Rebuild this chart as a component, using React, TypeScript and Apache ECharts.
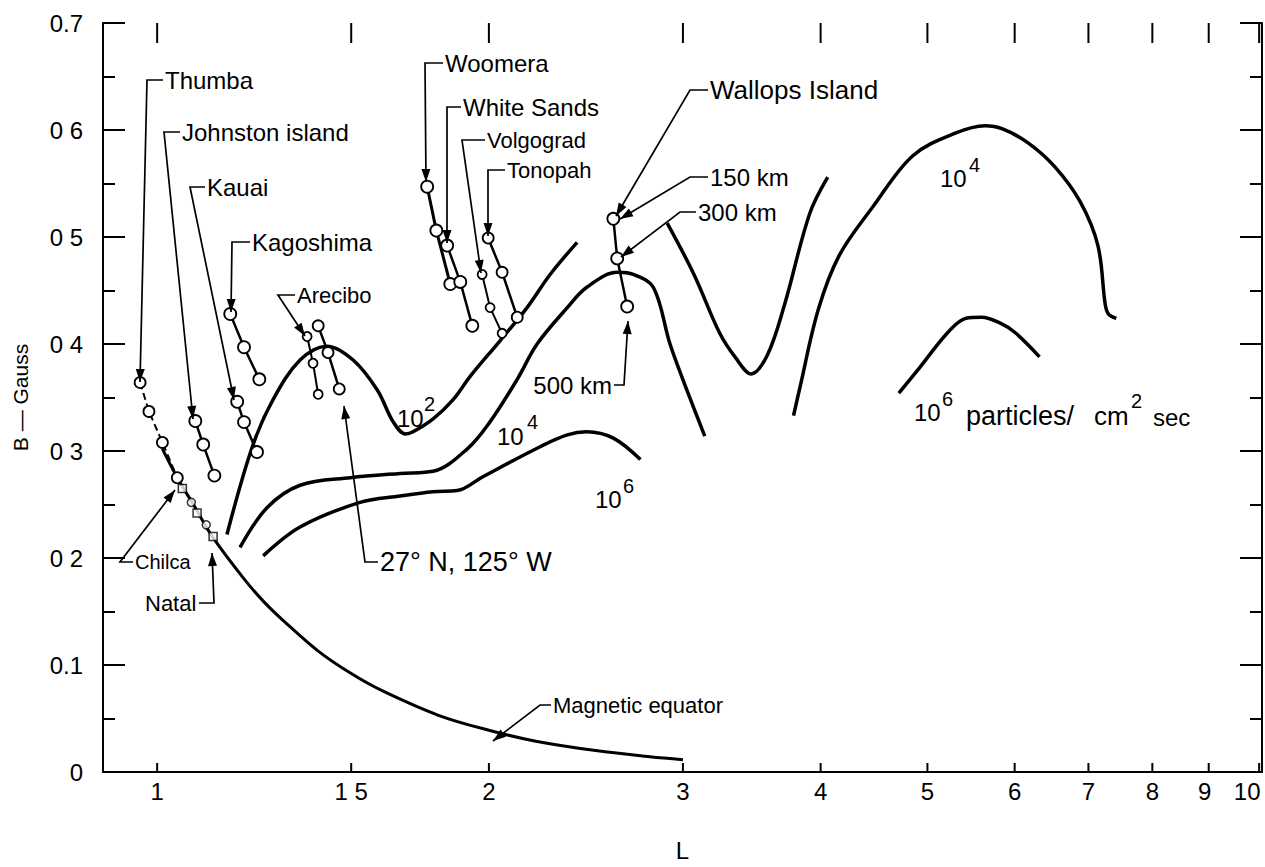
import React, { useEffect, useRef } from "react";
import * as echarts from "echarts";

// ---------- data (L, B in gauss) ----------
const xTickValues = [1, 1.5, 2, 3, 4, 5, 6, 7, 8, 9, 10];
const xTickLabels = ["1", "1 5", "2", "3", "4", "5", "6", "7", "8", "9", "10"];
const yTickLabels = ["0", "0.1", "0 2", "0 3", "0 4", "0 5", "0 6", "0.7"];

const magneticEquator = [
  [1.011, 0.302], [1.043, 0.275], [1.08, 0.249], [1.124, 0.219], [1.2, 0.18],
  [1.25, 0.159], [1.3, 0.142], [1.4, 0.113], [1.5, 0.092], [1.6, 0.076],
  [1.8, 0.053], [2.0, 0.039], [2.2, 0.029], [2.5, 0.02], [2.8, 0.0142], [3.0, 0.0115],
];
const flux1e2Low = [
  [1.157, 0.222], [1.22, 0.304], [1.274, 0.348], [1.348, 0.385], [1.426, 0.398],
  [1.506, 0.385], [1.584, 0.357], [1.638, 0.327], [1.68, 0.316], [1.707, 0.318],
  [1.78, 0.33], [1.856, 0.348], [1.924, 0.37], [2.047, 0.403], [2.166, 0.434],
  [2.273, 0.465], [2.405, 0.495],
];
const flux1e4Low = [
  [1.189, 0.21], [1.258, 0.247], [1.348, 0.268], [1.497, 0.275], [1.662, 0.279],
  [1.78, 0.281], [1.912, 0.302], [2.004, 0.327], [2.122, 0.367], [2.212, 0.4],
  [2.356, 0.434], [2.454, 0.453], [2.616, 0.467], [2.704, 0.465], [2.82, 0.453],
  [2.92, 0.4], [3.03, 0.355], [3.14, 0.314],
];
const flux1e6Low = [
  [1.248, 0.202], [1.348, 0.229], [1.528, 0.252], [1.662, 0.258], [1.78, 0.262],
  [1.872, 0.263], [1.975, 0.276], [2.226, 0.304], [2.356, 0.315], [2.454, 0.318],
  [2.594, 0.312], [2.745, 0.292],
];
const flux1e2High = [
  [2.903, 0.513], [3.07, 0.465], [3.24, 0.41], [3.35, 0.387], [3.46, 0.372],
  [3.58, 0.39], [3.71, 0.437], [3.91, 0.522], [4.06, 0.556],
];
const flux1e4High = [
  [3.78, 0.333], [3.83, 0.359], [3.98, 0.432], [4.16, 0.483], [4.46, 0.528],
  [4.85, 0.576], [5.3, 0.597], [5.64, 0.604], [5.85, 0.601], [6.17, 0.588],
  [6.52, 0.566], [6.88, 0.533], [7.14, 0.492], [7.25, 0.437], [7.3, 0.428], [7.42, 0.424],
];
const flux1e6High = [
  [4.71, 0.354], [4.92, 0.378], [5.22, 0.411], [5.42, 0.424], [5.6, 0.425],
  [5.81, 0.42], [6.0, 0.411], [6.32, 0.388],
];

const thumba = [[0.965, 0.364], [0.983, 0.337], [1.011, 0.308], [1.043, 0.275]];
const johnston = [[1.083, 0.328], [1.101, 0.306], [1.127, 0.277]];
const kauai = [[1.182, 0.346], [1.199, 0.327], [1.232, 0.299]];
const kagoshima = [[1.165, 0.428], [1.199, 0.397], [1.238, 0.367]];
const arecibo = [[1.368, 0.407], [1.385, 0.382], [1.4, 0.353]];
const site27N = [[1.4, 0.417], [1.429, 0.392], [1.463, 0.358]];
const woomera = [[1.758, 0.547], [1.792, 0.506], [1.845, 0.456]];
const whiteSands = [[1.833, 0.492], [1.884, 0.458], [1.932, 0.417]];
const volgograd = [[1.972, 0.465], [2.005, 0.434], [2.056, 0.41]];
const tonopah = [[1.997, 0.499], [2.056, 0.467], [2.122, 0.425]];
const wallops = [[2.594, 0.517], [2.615, 0.48], [2.67, 0.435]];
const equatorSquares = [[1.054, 0.265], [1.087, 0.242], [1.124, 0.22]];
const equatorCircles = [[1.074, 0.252], [1.108, 0.231]];

// ---------- layout / annotation config (pixels) ----------
const FONT = '"Liberation Sans", Arial, sans-serif';
const xLabelShift = [0, 0, 0, 0, 0, 0, 0, 0, 0, -4, -12];

type Ann = { text: string; x: number; y: number; size: number; align?: string; path: number[][] };
const annotations: Ann[] = [
  { text: "Thumba", x: 165, y: 80, size: 24, path: [[163, 80], [147, 80], [140, 382]] },
  { text: "Johnston island", x: 182, y: 132, size: 24, path: [[180, 132], [164, 132], [193, 419]] },
  { text: "Kauai", x: 207, y: 187, size: 24, path: [[205, 187], [190, 187], [234, 400]] },
  { text: "Kagoshima", x: 252, y: 242, size: 24, path: [[250, 242], [232, 242], [231, 312]] },
  { text: "Arecibo", x: 297, y: 295, size: 22, path: [[295, 295], [278, 295], [305, 336]] },
  { text: "Woomera", x: 445, y: 63, size: 24, path: [[443, 63], [425, 63], [426, 182]] },
  { text: "White Sands", x: 463, y: 107, size: 24, path: [[461, 107], [447, 107], [447, 243]] },
  { text: "Volgograd", x: 487, y: 140, size: 22, path: [[485, 140], [462, 140], [481, 273]] },
  { text: "Tonopah", x: 507, y: 170, size: 22, path: [[505, 170], [488, 170], [488, 236]] },
  { text: "Wallops Island", x: 710, y: 90, size: 26, path: [[708, 90], [690, 90], [616, 216]] },
  { text: "150 km", x: 710, y: 177, size: 24, path: [[708, 177], [690, 177], [620, 219]] },
  { text: "300 km", x: 698, y: 212, size: 24, path: [[696, 212], [680, 212], [621, 257]] },
  { text: "500 km", x: 612, y: 385, size: 24, align: "right", path: [[614, 385], [624, 385], [628, 321]] },
  { text: "27° N, 125° W", x: 380, y: 562, size: 27, path: [[378, 562], [365, 562], [344, 406]] },
  { text: "Chilca", x: 135, y: 562, size: 20, path: [[133, 562], [120, 562], [175, 490]] },
  { text: "Natal", x: 145, y: 603, size: 22, path: [[199, 603], [214, 603], [212, 553]] },
  { text: "Magnetic equator", x: 553, y: 705, size: 22, path: [[551, 705], [540, 705], [493, 741]] },
];

type Pow = { base: string; exp: string; x: number; y: number; ex: number; ey: number };
const powerLabels: Pow[] = [
  { base: "10", exp: "2", x: 397, y: 418, ex: 424, ey: 404 },
  { base: "10", exp: "4", x: 497, y: 436, ex: 527, ey: 422 },
  { base: "10", exp: "6", x: 595, y: 499, ex: 623, ey: 486 },
  { base: "10", exp: "4", x: 940, y: 178, ex: 969, ey: 165 },
  { base: "10", exp: "6", x: 914, y: 412, ex: 942, ey: 399 },
];
const extraTexts = [
  { text: "particles/", x: 966, y: 416, size: 27 },
  { text: "cm", x: 1094, y: 416, size: 26 },
  { text: "2", x: 1131, y: 401, size: 20 },
  { text: "sec", x: 1153, y: 417, size: 24 },
];

function arrowHead(p0: number[], p1: number[], len = 13, half = 4.5) {
  const dx = p1[0] - p0[0];
  const dy = p1[1] - p0[1];
  const d = Math.hypot(dx, dy) || 1;
  const ux = dx / d;
  const uy = dy / d;
  const bx = p1[0] - ux * len;
  const by = p1[1] - uy * len;
  return [
    [p1[0], p1[1]],
    [bx - uy * half, by + ux * half],
    [bx + uy * half, by - ux * half],
  ];
}

function buildGraphic() {
  const els: any[] = [];
  annotations.forEach((a) => {
    els.push({
      type: "polyline",
      z: 20,
      shape: { points: a.path },
      style: { stroke: "#000", lineWidth: 1.7, fill: null },
    });
    const n = a.path.length;
    els.push({
      type: "polygon",
      z: 20,
      shape: { points: arrowHead(a.path[n - 2], a.path[n - 1]) },
      style: { fill: "#000" },
    });
    els.push({
      type: "text",
      z: 20,
      x: a.x,
      y: a.y,
      style: {
        text: a.text,
        fill: "#000",
        font: `${a.size}px ${FONT}`,
        align: a.align || "left",
        verticalAlign: "middle",
      },
    });
  });
  powerLabels.forEach((p) => {
    els.push({
      type: "text", z: 20, x: p.x, y: p.y,
      style: { text: p.base, fill: "#000", font: `24px ${FONT}`, align: "left", verticalAlign: "middle" },
    });
    els.push({
      type: "text", z: 20, x: p.ex, y: p.ey,
      style: { text: p.exp, fill: "#000", font: `20px ${FONT}`, align: "left", verticalAlign: "middle" },
    });
  });
  extraTexts.forEach((t) => {
    els.push({
      type: "text", z: 20, x: t.x, y: t.y,
      style: { text: t.text, fill: "#000", font: `${t.size}px ${FONT}`, align: "left", verticalAlign: "middle" },
    });
  });
  return els;
}

function curve(name: string, data: number[][], width = 3.5) {
  return {
    name, type: "line", data, showSymbol: false, symbol: "none", smooth: 0.35,
    lineStyle: { color: "#000", width }, z: 3, silent: true,
  };
}

function station(name: string, data: number[][], size = 12, width = 2.5, dashed = false) {
  return {
    name, type: "line", data, symbol: "circle", symbolSize: size, showSymbol: true,
    itemStyle: { color: "#fff", borderColor: "#000", borderWidth: 1.8 },
    lineStyle: { color: "#000", width, type: dashed ? [7, 4] : "solid" },
    z: 5, silent: true,
  };
}

const axisCommon = {
  axisLine: { show: true, lineStyle: { color: "#000", width: 2 } },
  splitLine: { show: false },
};

export default function App() {
  const ref = useRef<HTMLDivElement>(null);
  useEffect(() => {
    const chart = echarts.init(ref.current!, null, { renderer: "svg" });
    const option: any = {
      animation: false,
      backgroundColor: "#fff",
      grid: { left: 103, top: 23, right: 3, bottom: 80, containLabel: false },
      xAxis: [
        {
          type: "log", logBase: 10, min: 0.893, max: 10.06, position: "bottom",
          ...axisCommon,
          axisTick: { show: false }, axisLabel: { show: false }, minorTick: { show: false },
          name: "L", nameLocation: "middle", nameGap: 66,
          nameTextStyle: { fontFamily: FONT, fontSize: 24, color: "#000" },
        },
        {
          type: "log", logBase: 10, min: 0.893, max: 10.06, position: "top",
          ...axisCommon,
          axisTick: { show: false }, axisLabel: { show: false }, minorTick: { show: false },
        },
      ],
      yAxis: [
        {
          type: "value", min: 0, max: 0.7, interval: 0.1, position: "left",
          ...axisCommon,
          axisTick: { show: true, inside: true, length: 22, lineStyle: { color: "#000", width: 2 } },
          minorTick: { show: true, splitNumber: 2, length: 12, lineStyle: { color: "#000", width: 2 } },
          minorSplitLine: { show: false },
          axisLabel: {
            show: true, margin: 20, color: "#000", fontFamily: FONT, fontSize: 24,
            formatter: (v: number) => yTickLabels[Math.round(v * 10)] ?? "",
          },
          name: "B — Gauss", nameLocation: "middle", nameGap: 72, nameRotate: 90,
          nameTextStyle: { fontFamily: FONT, fontSize: 21, color: "#000" },
        },
        {
          type: "value", min: 0, max: 0.7, interval: 0.1, position: "right",
          ...axisCommon,
          axisTick: { show: true, inside: true, length: 22, lineStyle: { color: "#000", width: 2 } },
          minorTick: { show: true, splitNumber: 2, length: 12, lineStyle: { color: "#000", width: 2 } },
          minorSplitLine: { show: false },
          axisLabel: { show: false },
        },
      ],
      series: [
        {
          name: "xTicks",
          type: "custom",
          coordinateSystem: "cartesian2d",
          xAxisIndex: 0,
          yAxisIndex: 0,
          clip: false,
          silent: true,
          z: 10,
          data: xTickValues.map((v, i) => [v, 0, i]),
          renderItem: (_p: any, api: any) => {
            const v = api.value(0);
            const i = api.value(2);
            const b = api.coord([v, 0]);
            const t = api.coord([v, 0.7]);
            return {
              type: "group",
              children: [
                { type: "line", shape: { x1: b[0], y1: b[1], x2: b[0], y2: b[1] - 9 }, style: { stroke: "#000", lineWidth: 2 } },
                { type: "line", shape: { x1: t[0], y1: t[1], x2: t[0], y2: t[1] + 20 }, style: { stroke: "#000", lineWidth: 2 } },
                {
                  type: "text", x: b[0] + xLabelShift[i], y: b[1] + 7,
                  style: { text: xTickLabels[i], fill: "#000", font: `24px ${FONT}`, align: "center", verticalAlign: "top" },
                },
              ],
            };
          },
        },
        curve("Magnetic equator", magneticEquator, 3),
        curve("1e2 low", flux1e2Low),
        curve("1e4 low", flux1e4Low),
        curve("1e6 low", flux1e6Low),
        curve("1e2 high", flux1e2High),
        curve("1e4 high", flux1e4High),
        curve("1e6 high", flux1e6High),
        station("Thumba", thumba, 11, 2, true),
        station("Johnston island", johnston, 12),
        station("Kauai", kauai, 12),
        station("Kagoshima", kagoshima, 12),
        station("Arecibo", arecibo, 9, 2),
        station("27N 125W", site27N, 11),
        station("Woomera", woomera, 12, 3),
        station("White Sands", whiteSands, 12, 2.5),
        station("Volgograd", volgograd, 9, 2),
        station("Tonopah", tonopah, 11, 2.5),
        station("Wallops Island", wallops, 12, 2.5),
        {
          name: "equator squares", type: "scatter", data: equatorSquares, symbol: "rect", symbolSize: 8,
          itemStyle: { color: "#fff", borderColor: "#000", borderWidth: 1.5 }, z: 6, silent: true,
        },
        {
          name: "equator circles", type: "scatter", data: equatorCircles, symbol: "circle", symbolSize: 8,
          itemStyle: { color: "#fff", borderColor: "#000", borderWidth: 1.5 }, z: 6, silent: true,
        },
      ],
      graphic: buildGraphic(),
    };
    chart.setOption(option);
    return () => chart.dispose();
  }, []);
  return (
    <div
      ref={ref}
      style={{ position: "fixed", left: 0, top: 0, width: 1265, height: 867, background: "#fff" }}
    />
  );
}
